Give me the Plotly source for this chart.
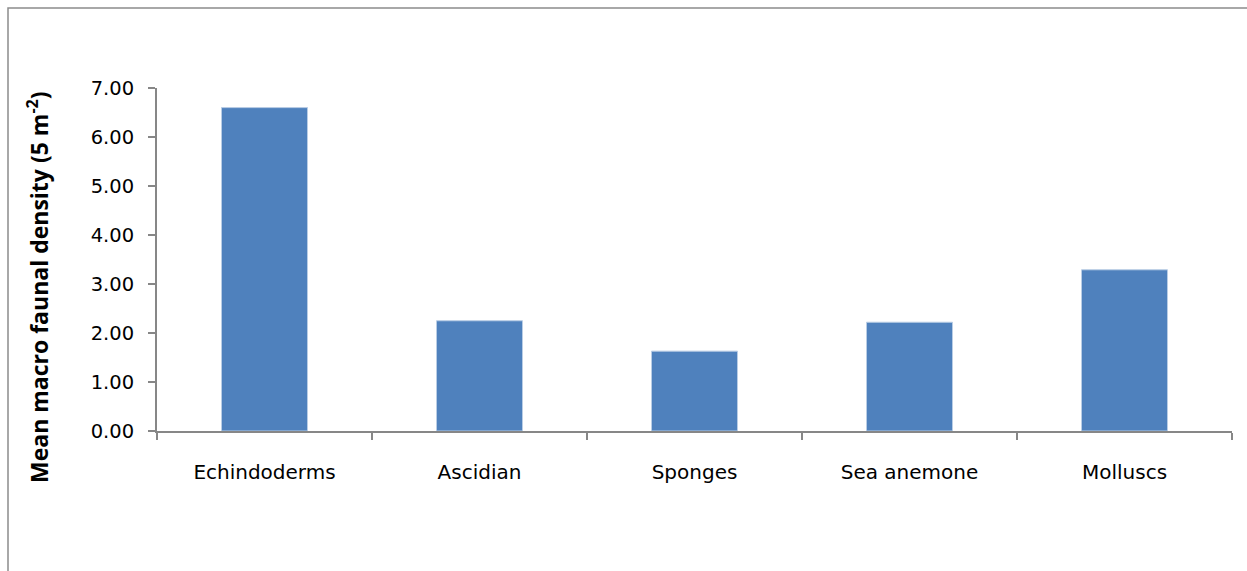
import plotly.graph_objects as go

# Mean macrofaunal density per group
categories = ["Echindoderms", "Ascidian", "Sponges", "Sea anemone", "Molluscs"]
density = [6.60, 2.25, 1.63, 2.22, 3.29]
y_ticks = [0, 1, 2, 3, 4, 5, 6, 7]

W, H = 1247, 571
L, R, T, B = 157, 15, 88, 140
pw, ph = W - L - R, H - T - B

fig = go.Figure(
    go.Bar(
        x=categories,
        y=density,
        marker=dict(color="#4F81BD", line=dict(color="#B9CDE5", width=1)),
    )
)

axis_col = "#878787"
tick_family = "DejaVu Sans, Liberation Sans, sans-serif"
title_family = "Open Sans, Liberation Sans, sans-serif"

fig.update_layout(
    width=W,
    height=H,
    margin=dict(l=L, r=R, t=T, b=B),
    paper_bgcolor="white",
    plot_bgcolor="white",
    bargap=0.6,
    showlegend=False,
    font=dict(family=tick_family, color="#000000"),
    xaxis=dict(
        type="category",
        showline=True,
        linecolor=axis_col,
        linewidth=2,
        ticks="outside",
        tickson="boundaries",
        ticklen=7,
        tickwidth=2,
        tickcolor=axis_col,
        tickfont=dict(size=20, family=tick_family),
        ticklabelstandoff=22,
        showgrid=False,
        zeroline=False,
    ),
    yaxis=dict(
        range=[0, 7],
        tickvals=y_ticks,
        tickformat=".2f",
        showline=True,
        linecolor=axis_col,
        linewidth=2,
        ticks="outside",
        ticklen=7,
        tickwidth=2,
        tickcolor=axis_col,
        tickfont=dict(size=19.5, family=tick_family),
        ticklabelstandoff=10,
        showgrid=False,
        zeroline=False,
    ),
)

# Y-axis title, placed as a rotated annotation left of the tick labels
fig.add_annotation(
    text="<b>Mean macro faunal density (5 m<sup>-2</sup>)</b>",
    textangle=-90,
    xref="paper",
    yref="paper",
    x=(38 - L) / pw,
    y=(T + ph - 287) / ph,
    xanchor="center",
    yanchor="middle",
    showarrow=False,
    font=dict(size=23, family=title_family, color="#000000"),
)

# Chart-area frame (open on the right and bottom edges of the page)
fig.add_shape(
    type="rect",
    xref="paper",
    yref="paper",
    x0=(8 - L) / pw,
    x1=(W + 10 - L) / pw,
    y0=-(H + 10 - T - ph) / ph,
    y1=(H - 8 - B) / ph,
    line=dict(color="#8C8C8C", width=1.5),
    fillcolor="rgba(0,0,0,0)",
    layer="below",
)

fig.write_html("out.html")
